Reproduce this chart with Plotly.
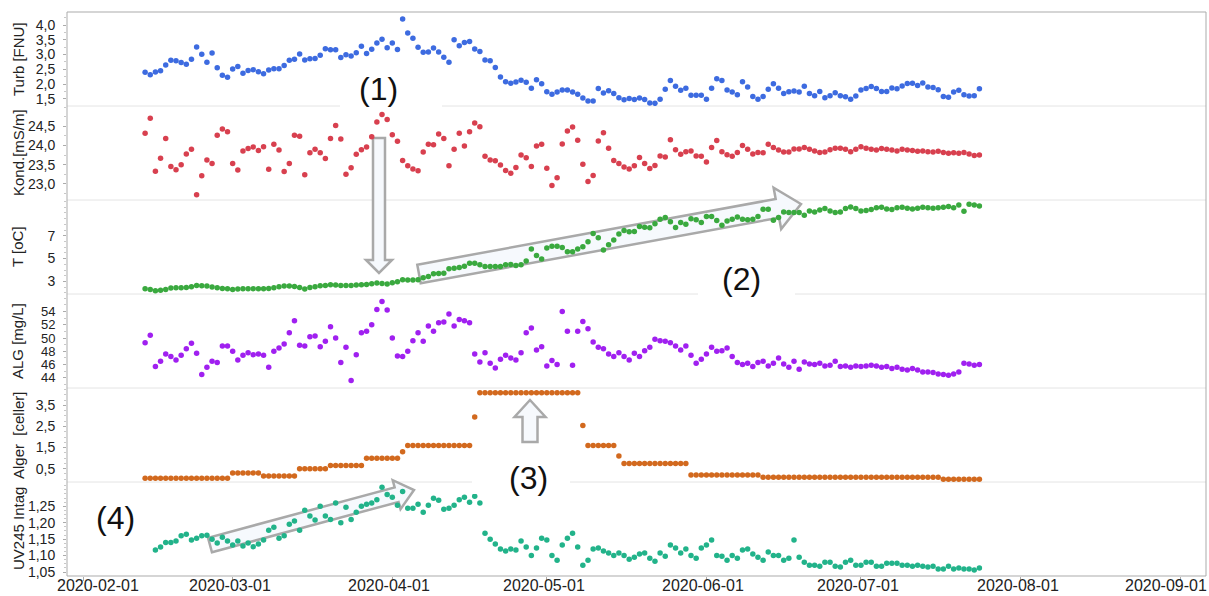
import math
import pandas as pd
import plotly.graph_objects as go
from plotly.subplots import make_subplots

# Daily samples, 2020-02-13 .. 2020-07-24
dates = pd.date_range("2020-02-13", "2020-07-24", freq="D")

turb = [2.40, 2.32, 2.41, 2.45, 2.65, 2.81, 2.79, 2.73, 2.67, 2.84,
        3.26, 3.01, 2.74, 3.05, 2.55, 2.30, 2.23, 2.51, 2.60, 2.37,
        2.46, 2.49, 2.42, 2.35, 2.48, 2.52, 2.52, 2.63, 2.81, 2.84,
        3.02, 2.82, 2.86, 2.87, 2.98, 3.20, 3.16, 3.16, 2.90, 2.99,
        2.95, 3.06, 3.28, 3.04, 3.18, 3.39, 3.52, 3.23, 3.39, 3.17,
        4.20, 3.73, 3.55, 3.25, 3.08, 3.09, 3.22, 3.09, 2.91, 2.74,
        3.50, 3.30, 3.41, 3.44, 3.19, 3.10, 2.82, 2.79, 2.56, 2.24,
        2.08, 2.03, 2.07, 2.13, 2.06, 1.86, 2.15, 2.01, 1.74, 1.66,
        1.73, 1.80, 1.80, 1.73, 1.66, 1.53, 1.43, 1.43, 1.85, 1.70,
        1.78, 1.68, 1.54, 1.47, 1.51, 1.48, 1.53, 1.48, 1.36, 1.35,
        1.49, 1.83, 2.12, 1.93, 1.79, 1.86, 1.62, 1.62, 1.62, 1.49,
        1.86, 2.18, 2.12, 1.80, 1.73, 1.64, 2.08, 1.90, 1.58, 1.49,
        1.58, 1.83, 2.01, 1.86, 1.68, 1.74, 1.77, 1.73, 1.93, 1.68,
        1.61, 1.75, 1.54, 1.61, 1.71, 1.61, 1.57, 1.49, 1.60, 1.80,
        1.85, 1.92, 1.85, 1.75, 1.75, 1.87, 1.84, 1.94, 2.02, 2.03,
        1.95, 2.04, 1.90, 1.89, 1.81, 1.58, 1.56, 1.73, 1.79, 1.64,
        1.60, 1.61, 1.84]

kond = [24.32, 24.71, 23.33, 23.67, 24.18, 23.45, 23.37, 23.50, 23.78, 23.90,
        22.72, 23.21, 23.62, 23.53, 24.27, 24.43, 24.36, 23.53, 23.36, 23.86,
        23.92, 23.96, 23.87, 23.97, 23.38, 24.03, 23.88, 23.32, 23.53, 24.27,
        24.24, 23.24, 23.81, 23.90, 23.81, 23.66, 24.18, 24.52, 24.17, 23.25,
        23.42, 23.77, 23.89, 23.96, 24.23, 24.61, 24.81, 24.68, 24.28, 24.11,
        23.61, 23.47, 23.39, 23.34, 23.83, 24.03, 24.02, 24.30, 24.18, 23.47,
        23.90, 24.32, 23.99, 24.36, 24.59, 24.49, 23.72, 23.62, 23.60, 23.49,
        23.35, 23.28, 23.43, 23.75, 23.68, 23.45, 23.99, 24.03, 23.41, 22.96,
        23.16, 24.04, 24.38, 24.48, 24.14, 23.51, 23.06, 23.22, 24.12, 24.33,
        23.93, 23.61, 23.53, 23.44, 23.39, 23.47, 23.69, 23.53, 23.40, 23.48,
        23.73, 23.70, 24.15, 23.89, 23.77, 23.84, 23.86, 23.73, 23.72, 23.57,
        23.95, 24.13, 23.84, 23.76, 23.72, 23.82, 24.00, 23.90, 23.78, 23.82,
        23.81, 24.03, 23.95, 23.88, 23.83, 23.83, 23.91, 23.91, 23.95, 23.90,
        23.86, 23.82, 23.83, 23.89, 23.93, 23.93, 23.90, 23.84, 23.90, 23.97,
        23.93, 23.90, 23.88, 23.92, 23.90, 23.88, 23.86, 23.90, 23.88, 23.87,
        23.85, 23.86, 23.84, 23.83, 23.85, 23.82, 23.80, 23.81, 23.80, 23.82,
        23.78, 23.74, 23.75]

temp = [2.36, 2.30, 2.19, 2.22, 2.30, 2.42, 2.45, 2.45, 2.48, 2.54,
        2.65, 2.62, 2.59, 2.51, 2.45, 2.39, 2.36, 2.30, 2.33, 2.36,
        2.36, 2.36, 2.36, 2.36, 2.39, 2.45, 2.54, 2.59, 2.59, 2.56,
        2.48, 2.33, 2.48, 2.54, 2.62, 2.65, 2.71, 2.68, 2.65, 2.65,
        2.65, 2.68, 2.71, 2.74, 2.80, 2.86, 2.83, 2.77, 2.89, 2.97,
        3.14, 3.12, 3.12, 3.14, 3.32, 3.43, 3.67, 3.70, 3.72, 4.10,
        4.16, 4.22, 4.33, 4.59, 4.59, 4.45, 4.30, 4.30, 4.30, 4.30,
        4.45, 4.48, 4.39, 4.45, 4.80, 5.84, 5.26, 4.97, 5.93, 6.07,
        6.07, 5.98, 5.61, 5.61, 5.84, 6.04, 6.48, 7.20, 6.83, 5.76,
        6.22, 6.63, 7.15, 7.46, 7.35, 7.38, 7.81, 7.75, 7.70, 8.04,
        8.45, 8.59, 8.22, 7.72, 8.16, 8.01, 8.48, 8.39, 8.16, 8.68,
        8.68, 8.33, 7.93, 8.30, 8.45, 8.65, 8.45, 8.39, 8.45, 8.68,
        9.32, 9.32, 8.36, 8.59, 9.09, 9.03, 9.03, 9.03, 8.80, 9.17,
        9.09, 9.26, 9.38, 9.17, 9.03, 9.09, 9.38, 9.52, 9.38, 9.17,
        9.20, 9.30, 9.45, 9.50, 9.35, 9.30, 9.45, 9.50, 9.40, 9.35,
        9.40, 9.50, 9.45, 9.40, 9.45, 9.50, 9.55, 9.45, 9.70, 9.15,
        9.75, 9.70, 9.60]

alg = [49.3, 50.4, 45.7, 46.5, 47.6, 47.2, 46.7, 47.4, 48.4, 49.2,
       47.7, 44.5, 45.6, 46.5, 46.3, 48.8, 48.8, 48.0, 46.7, 47.4,
       47.8, 47.5, 47.6, 47.4, 45.6, 48.0, 48.5, 49.1, 50.8, 52.6,
       48.9, 48.8, 50.2, 50.3, 48.7, 49.5, 51.7, 50.0, 46.3, 48.6,
       43.6, 47.5, 50.8, 51.0, 52.0, 54.3, 55.5, 54.2, 50.0, 47.3,
       47.2, 48.0, 49.6, 50.8, 49.5, 51.8, 51.0, 52.3, 52.4, 53.6,
       51.8, 52.8, 52.6, 52.3, 47.6, 46.4, 47.8, 46.2, 45.5, 46.8,
       47.4, 47.0, 46.7, 47.8, 50.8, 51.5, 48.2, 48.7, 45.8, 46.6,
       46.0, 54.0, 51.0, 45.9, 51.0, 52.5, 51.4, 49.4, 48.6, 48.4,
       47.6, 47.2, 47.8, 47.2, 46.7, 47.7, 47.2, 48.1, 48.6, 49.8,
       49.6, 49.5, 49.3, 48.8, 48.2, 48.8, 47.4, 46.2, 46.8, 47.6,
       48.6, 48.0, 48.1, 48.5, 47.2, 46.3, 46.0, 46.2, 45.7, 46.3,
       46.5, 45.8, 46.2, 47.0, 46.1, 45.6, 46.5, 45.3, 46.4, 46.1,
       46.0, 46.2, 45.8, 45.9, 46.5, 45.7, 45.8, 45.6, 45.8, 45.7,
       45.8, 45.9, 45.8, 45.6, 45.7, 45.4, 45.6, 45.3, 45.2, 45.4,
       45.2, 44.9, 44.9, 44.8, 44.6, 44.5, 44.4, 44.6, 44.9, 46.2,
       46.1, 45.9, 46.0]

alger = [0.05, 0.05, 0.05, 0.05, 0.05, 0.05, 0.05, 0.05, 0.05, 0.05,
         0.05, 0.05, 0.05, 0.05, 0.05, 0.05, 0.05, 0.30, 0.30, 0.30,
         0.30, 0.30, 0.30, 0.15, 0.15, 0.15, 0.15, 0.15, 0.15, 0.15,
         0.50, 0.50, 0.50, 0.50, 0.50, 0.50, 0.65, 0.65, 0.65, 0.65,
         0.65, 0.65, 0.65, 1.00, 1.00, 1.00, 1.00, 1.00, 1.00, 1.00,
         1.30, 1.60, 1.60, 1.60, 1.60, 1.60, 1.60, 1.60, 1.60, 1.60,
         1.60, 1.60, 1.60, 1.60, 2.95, 4.10, 4.10, 4.10, 4.10, 4.10,
         4.10, 4.10, 4.10, 4.10, 4.10, 4.10, 4.10, 4.10, 4.10, 4.10,
         4.10, 4.10, 4.10, 4.10, 4.10, 2.55, 1.60, 1.60, 1.60, 1.60,
         1.60, 1.60, 1.10, 0.75, 0.75, 0.75, 0.75, 0.75, 0.75, 0.75,
         0.75, 0.75, 0.75, 0.75, 0.75, 0.75, 0.20, 0.20, 0.20, 0.20,
         0.20, 0.20, 0.20, 0.20, 0.20, 0.20, 0.20, 0.20, 0.20, 0.20,
         0.10, 0.10, 0.10, 0.10, 0.10, 0.10, 0.10, 0.10, 0.10, 0.10,
         0.10, 0.10, 0.10, 0.10, 0.10, 0.10, 0.10, 0.10, 0.10, 0.10,
         0.10, 0.10, 0.10, 0.10, 0.10, 0.10, 0.10, 0.10, 0.10, 0.10,
         0.10, 0.10, 0.10, 0.10, 0.10, 0.00, 0.00, 0.00, 0.00, 0.00,
         0.00, 0.00, 0.00]

uv = [None, None, 1.117, 1.126, 1.140, 1.140, 1.144, 1.160, 1.165, 1.147,
      1.153, 1.160, 1.162, 1.150, 1.138, 1.156, 1.144, 1.132, 1.144, 1.129,
      1.138, 1.127, 1.135, 1.147, 1.177, 1.186, 1.153, 1.160, 1.195, 1.205,
      1.177, 1.238, 1.220, 1.208, 1.250, 1.220, 1.210, 1.260, 1.200, 1.247,
      1.210, 1.232, 1.250, 1.256, 1.260, 1.270, 1.308, 1.286, 1.277, 1.253,
      1.295, 1.244, 1.244, 1.256, 1.232, 1.253, 1.274, 1.268, 1.241, 1.244,
      1.253, 1.270, 1.277, 1.262, 1.280, 1.260, 1.168, 1.150, 1.135, 1.120,
      1.114, 1.120, 1.117, 1.144, 1.126, 1.100, 1.123, 1.153, 1.147, 1.100,
      1.086, 1.132, 1.153, 1.168, 1.126, 1.071, 1.086, 1.120, 1.123, 1.114,
      1.108, 1.100, 1.108, 1.100, 1.089, 1.095, 1.105, 1.108, 1.092, 1.083,
      1.108, 1.098, 1.132, 1.123, 1.108, 1.120, 1.100, 1.092, 1.123, 1.132,
      1.147, 1.100, 1.098, 1.086, 1.100, 1.092, 1.117, 1.120, 1.105, 1.095,
      1.086, 1.111, 1.100, 1.100, 1.086, 1.092, 1.147, 1.095, 1.080, 1.071,
      1.071, 1.068, 1.080, 1.080, 1.068, 1.065, 1.080, 1.086, 1.071, 1.071,
      1.080, 1.080, 1.068, 1.068, 1.077, 1.077, 1.077, 1.071, 1.071, 1.068,
      1.071, 1.068, 1.065, 1.068, 1.059, 1.059, 1.068, 1.059, 1.062, 1.059,
      1.059, 1.056, 1.062]

# Month ticks along the shared time axis
month_ticks = ["2020-02-01", "2020-03-01", "2020-04-01", "2020-05-01",
               "2020-06-01", "2020-07-01", "2020-08-01", "2020-09-01"]

panels = [
    # (values, colour, title, range, tick values, tick format, minor step, tick font size)
    (turb, "#3d6be0", "Turb [FNU]", [1.26, 4.44], [1.5, 2.0, 2.5, 3.0, 3.5, 4.0], ".1f", 0.25, 14),
    (kond, "#d8404f", "Kond.[mS/m]", [22.58, 25.03], [23.0, 23.5, 24.0, 24.5], ".1f", 0.25, 14),
    (temp, "#3aa93f", "T [oC]", [1.90, 10.13], [3, 5, 7], "d", 0.5, 14),
    (alg, "#a020f0", "ALG [mg/L]", [42.48, 56.62], [44, 46, 48, 50, 52, 54], "d", 1, 13),
    (alger, "#d2691e", "Alger  [celler]", [-0.13, 4.32], [0.5, 1.5, 2.5, 3.5], ".1f", 0.25, 14),
    (uv, "#22b38a", "UV245 Intag", [1.038, 1.3236], [1.05, 1.10, 1.15, 1.20, 1.25], ".2f", 0.0125, 14),
]

W, H = 1209, 596
ML, MR, MT, MB = 67, 3, 12, 20
PW, PH = W - ML - MR, H - MT - MB
FONT = "Liberation Sans Narrow, Arial Narrow, Liberation Sans, Arial, sans-serif"
GREY = "#ababab"
TXT = "#222"

fig = make_subplots(rows=6, cols=1, shared_xaxes=True, vertical_spacing=0)

for i, (vals, col, title, rng, tv, fmt, minor, fs) in enumerate(panels, start=1):
    fig.add_trace(go.Scatter(x=dates, y=vals, mode="markers",
                             marker=dict(size=5.5, color=col, line=dict(width=0)),
                             showlegend=False, hoverinfo="x+y"), row=i, col=1)
    fig.update_yaxes(range=rng, tickvals=tv, tickformat=fmt, automargin=False,
                     showgrid=False, zeroline=False, showline=False,
                     ticks="outside", ticklen=3, tickcolor=GREY,
                     ticklabelstandoff=5,
                     minor=dict(ticks="outside", ticklen=2, dtick=minor, tickcolor="#c8c8c8", showgrid=False),
                     tickfont=dict(family=FONT, size=fs, color=TXT),
                     row=i, col=1)

fig.update_xaxes(type="date", range=["2020-01-28 20:00", "2020-09-06 00:00"],
                 showgrid=False, zeroline=False, showline=False, automargin=False,
                 showticklabels=False)
fig.update_xaxes(tickvals=month_ticks, ticks="outside", ticklen=4, tickcolor=GREY,
                 row=6, col=1)


def to_paper(px, py):
    return (px - ML) / PW, (H - MB - py) / PH


def block_arrow(tail, tip, half_shaft, half_head, head_len):
    (x0, y0), (x1, y1) = tail, tip
    dx, dy = x1 - x0, y1 - y0
    n = math.hypot(dx, dy)
    ux, uy = dx / n, dy / n
    nx, ny = -uy, ux
    bx, by = x1 - head_len * ux, y1 - head_len * uy
    pts = [(x0 + half_shaft * nx, y0 + half_shaft * ny),
           (bx + half_shaft * nx, by + half_shaft * ny),
           (bx + half_head * nx, by + half_head * ny),
           (x1, y1),
           (bx - half_head * nx, by - half_head * ny),
           (bx - half_shaft * nx, by - half_shaft * ny),
           (x0 - half_shaft * nx, y0 - half_shaft * ny)]
    return "M " + " L ".join("%.5f,%.5f" % to_paper(*p) for p in pts) + " Z"


shapes = []
# panel separators and frame
for k in range(1, 6):
    shapes.append(dict(type="line", xref="paper", yref="paper", x0=0, x1=1, y0=k / 6, y1=k / 6,
                       line=dict(color="#e4e4e4", width=1), layer="below"))
shapes.append(dict(type="rect", xref="paper", yref="paper", x0=0, x1=1, y0=0, y1=1,
                   line=dict(color=GREY, width=1), layer="below"))

# hollow block arrows (under the markers)
for tail, tip, hs, hh, hl in [((379, 138), (379, 273), 6, 13, 13),
                              ((419, 274), (801, 204), 9.5, 21, 24),
                              ((530, 442), (530, 400), 7.5, 15.5, 17),
                              ((210, 545), (414, 490), 7.5, 15, 18)]:
    shapes.append(dict(type="path", xref="paper", yref="paper",
                       path=block_arrow(tail, tip, hs, hh, hl),
                       fillcolor="#f6f9fd",
                       line=dict(color="#a9a9a9", width=2.5), layer="below"))

# white label backgrounds that interrupt the separators
for (xa, ya, xb, yb) in [(340, 70, 442, 109), (698, 262, 795, 297), (472, 462, 570, 494)]:
    pa, qa = to_paper(xa, yb)
    pb, qb = to_paper(xb, ya)
    shapes.append(dict(type="rect", xref="paper", yref="paper", x0=pa, x1=pb, y0=qa, y1=qb,
                       fillcolor="white", line=dict(width=0), layer="above"))

annotations = []
for i, p in enumerate(panels):
    yc = MT + PH * (i + 0.5) / 6
    x, y = to_paper(18, yc)
    annotations.append(dict(text=p[2], xref="paper", yref="paper", x=x, y=y,
                            textangle=-90, showarrow=False, xanchor="center", yanchor="middle",
                            font=dict(family=FONT, size=15, color=TXT)))

for txt, px, py in [("(1)", 378, 89), ("(2)", 741, 279), ("(3)", 528, 478), ("(4)", 115, 518)]:
    x, y = to_paper(px, py)
    annotations.append(dict(text=txt, xref="paper", yref="paper", x=x, y=y,
                            showarrow=False, xanchor="center", yanchor="middle",
                            font=dict(family=FONT, size=32, color="#111")))

# month labels under the time axis; the outermost ones are nudged inside the frame
_, label_y = to_paper(0, 585)
for j, t in enumerate(month_ticks):
    shift = -3
    if j == 0:
        shift = 15
    elif j == len(month_ticks) - 1:
        shift = -14
    annotations.append(dict(text=t, xref="x6", yref="paper", x=t, y=label_y, xshift=shift,
                            showarrow=False, xanchor="center", yanchor="middle",
                            font=dict(family=FONT, size=16, color=TXT)))

fig.update_layout(width=W, height=H, margin=dict(l=ML, r=MR, t=MT, b=MB, autoexpand=False),
                  plot_bgcolor="white", paper_bgcolor="white",
                  separators=", ", shapes=shapes, annotations=annotations,
                  font=dict(family=FONT, color=TXT))

fig.write_html("out.html")
